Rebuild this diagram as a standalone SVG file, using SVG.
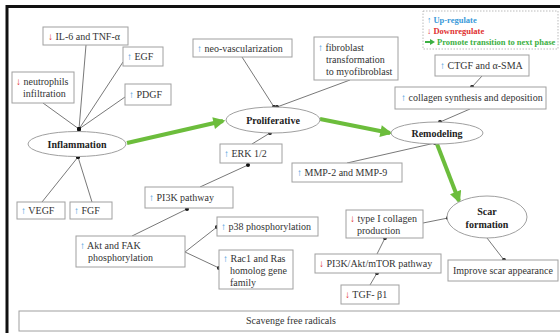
<svg xmlns="http://www.w3.org/2000/svg" width="560" height="333" viewBox="0 0 560 333">
<style>
text{font-family:"Liberation Serif","Times New Roman",serif;font-size:10px;fill:#333}
.b{font-weight:bold;fill:#222}
.box{fill:#fff;stroke:#a0a0a0;stroke-width:1}
.ell{fill:#fff;stroke:#a0a0a0;stroke-width:1}
.up{fill:#3a9ad9}
.dn{fill:#e03030}
.ln{stroke:#555;stroke-width:0.8;fill:none;marker-end:url(#dot)}
.gr{stroke:#6cbd3c;stroke-width:4;fill:none;marker-end:url(#gh)}
.lg{font-weight:bold;font-size:8.5px}
</style>
<defs>
<marker id="dot" viewBox="0 0 6 6" refX="3" refY="3" markerWidth="4" markerHeight="4" markerUnits="userSpaceOnUse"><circle cx="3" cy="3" r="3" fill="#111"/></marker>
<marker id="gh" viewBox="0 0 10 10" refX="8" refY="5" markerWidth="3.2" markerHeight="3" orient="auto"><path d="M0,0 L10,5 L0,10 Z" fill="#6cbd3c"/></marker>
</defs>
<rect width="560" height="333" fill="#fff"/>
<path d="M7,333 V6.5 H560" stroke="#111" stroke-width="3" fill="none"/>

<g id="connectors">
<line class="ln" x1="86" y1="45" x2="79" y2="129"/>
<line class="ln" x1="123" y1="62" x2="79" y2="129"/>
<line class="ln" x1="125" y1="97" x2="79" y2="129"/>
<line class="ln" x1="43" y1="103" x2="79" y2="129"/>
<line class="ln" x1="42" y1="202" x2="78" y2="157"/>
<line class="ln" x1="92" y1="202" x2="78" y2="157"/>
<line class="ln" x1="242" y1="57" x2="274" y2="107"/>
<line class="ln" x1="350" y1="80" x2="277" y2="107"/>
<line class="ln" x1="252" y1="144" x2="270" y2="133"/>
<line class="ln" x1="200" y1="187" x2="248" y2="165"/>
<line class="ln" x1="132" y1="236" x2="187" y2="209"/>
<line class="ln" x1="185" y1="252" x2="217" y2="227"/>
<line class="ln" x1="185" y1="252" x2="219" y2="268"/>
<line class="ln" x1="482" y1="76" x2="472" y2="87"/>
<line class="ln" x1="470" y1="109" x2="440" y2="122"/>
<line class="ln" x1="347" y1="163" x2="435" y2="143"/>
<line class="ln" x1="423" y1="223" x2="448" y2="218"/>
<line class="ln" x1="377" y1="254" x2="385" y2="238"/>
<line class="ln" x1="370" y1="285" x2="377" y2="273"/>
<line class="ln" x1="487" y1="238" x2="504" y2="260"/>
<line class="gr" x1="127" y1="143" x2="223" y2="121"/>
<line class="gr" x1="320" y1="119" x2="390" y2="133"/>
<line class="gr" x1="437" y1="144" x2="459" y2="201"/>
</g>

<g id="legend">
<rect x="423" y="11" width="135" height="38" fill="#fff" stroke="#aaa" stroke-width="0.8" stroke-dasharray="1.5,1.5"/>
<text class="lg" x="427" y="23" style="fill:#3a9ad9">↑ Up-regulate</text>
<text class="lg" x="427" y="34" style="fill:#e03030">↓ Downregulate</text>
<path d="M425,42 H431" stroke="#3cb043" stroke-width="2"/><path d="M430,39 L435,42 L430,45 Z" fill="#3cb043"/>
<text class="lg" x="437" y="45" style="fill:#3cb043">Promote transition to next phase</text>
</g>

<g id="il6"><rect class="box" x="43" y="27" width="85" height="18"/><text x="48" y="40"><tspan class="dn">↓</tspan> IL-6 and TNF-α</text></g>
<g id="egf"><rect class="box" x="123" y="47" width="40" height="19"/><text x="127" y="60"><tspan class="up">↑</tspan> EGF</text></g>
<g id="neutrophils"><rect class="box" x="12" y="72" width="62" height="31"/><text x="16" y="85"><tspan class="dn">↓</tspan> neutrophils</text><text x="23" y="97">infiltration</text></g>
<g id="pdgf"><rect class="box" x="125" y="84" width="46" height="21"/><text x="129" y="98"><tspan class="up">↑</tspan> PDGF</text></g>
<g id="inflammation"><ellipse class="ell" cx="77" cy="144" rx="49" ry="12.5"/><text class="b" x="77" y="148" text-anchor="middle">Inflammation</text></g>
<g id="vegf"><rect class="box" x="17" y="202" width="48" height="17"/><text x="21" y="214"><tspan class="up">↑</tspan> VEGF</text></g>
<g id="fgf"><rect class="box" x="70" y="202" width="42" height="17"/><text x="74" y="214"><tspan class="up">↑</tspan> FGF</text></g>

<g id="neovasc"><rect class="box" x="193" y="39" width="99" height="18"/><text x="197" y="52"><tspan class="up">↑</tspan> neo-vascularization</text></g>
<g id="fibroblast"><rect class="box" x="314" y="37" width="84" height="43"/><text x="318" y="51"><tspan class="up">↑</tspan> fibroblast</text><text x="326" y="63">transformation</text><text x="326" y="75">to myofibroblast</text></g>
<g id="proliferative"><ellipse class="ell" cx="273" cy="120" rx="47" ry="13"/><text class="b" x="273" y="124" text-anchor="middle">Proliferative</text></g>
<g id="erk"><rect class="box" x="220" y="144" width="62" height="19"/><text x="224" y="157"><tspan class="up">↑</tspan> ERK 1/2</text></g>
<g id="pi3k"><rect class="box" x="145" y="187" width="88" height="21"/><text x="149" y="201"><tspan class="up">↑</tspan> PI3K pathway</text></g>
<g id="akt"><rect class="box" x="76" y="236" width="109" height="31"/><text x="80" y="249"><tspan class="up">↑</tspan> Akt and FAK</text><text x="88" y="261">phosphorylation</text></g>
<g id="p38"><rect class="box" x="217" y="217" width="101" height="19"/><text x="221" y="230"><tspan class="up">↑</tspan> p38 phosphorylation</text></g>
<g id="rac1"><rect class="box" x="219" y="250" width="74" height="39"/><text x="223" y="262"><tspan class="up">↑</tspan> Rac1 and Ras</text><text x="230" y="274">homolog gene</text><text x="230" y="286">family</text></g>

<g id="ctgf"><rect class="box" x="435" y="55" width="94" height="21"/><text x="440" y="69"><tspan class="up">↑</tspan> CTGF and α-SMA</text></g>
<g id="collagen"><rect class="box" x="395" y="87" width="151" height="22"/><text x="401" y="101"><tspan class="up">↑</tspan> collagen synthesis and deposition</text></g>
<g id="remodeling"><ellipse class="ell" cx="437" cy="133" rx="46" ry="11"/><text class="b" x="437" y="137" text-anchor="middle">Remodeling</text></g>
<g id="mmp"><rect class="box" x="292" y="163" width="110" height="19"/><text x="297" y="176"><tspan class="up">↑</tspan> MMP-2 and MMP-9</text></g>

<g id="scar"><ellipse class="ell" cx="487" cy="217" rx="40" ry="21"/><text class="b" x="487" y="215" text-anchor="middle">Scar</text><text class="b" x="487" y="228" text-anchor="middle">formation</text></g>
<g id="type1"><rect class="box" x="346" y="210" width="77" height="28"/><text x="350" y="222"><tspan class="dn">↓</tspan> type I collagen</text><text x="357" y="234">production</text></g>
<g id="pi3kakt"><rect class="box" x="315" y="254" width="126" height="19"/><text x="319" y="267"><tspan class="dn">↓</tspan> PI3K/Akt/mTOR pathway</text></g>
<g id="tgf"><rect class="box" x="341" y="285" width="58" height="19"/><text x="345" y="298"><tspan class="dn">↓</tspan> TGF- β1</text></g>
<g id="improve"><rect class="box" x="448" y="260" width="110" height="21"/><text x="453" y="274">Improve scar appearance</text></g>

<g id="scavenge"><rect class="box" x="19" y="311" width="550" height="20"/><text x="291" y="324" text-anchor="middle">Scavenge free radicals</text></g>
</svg>
